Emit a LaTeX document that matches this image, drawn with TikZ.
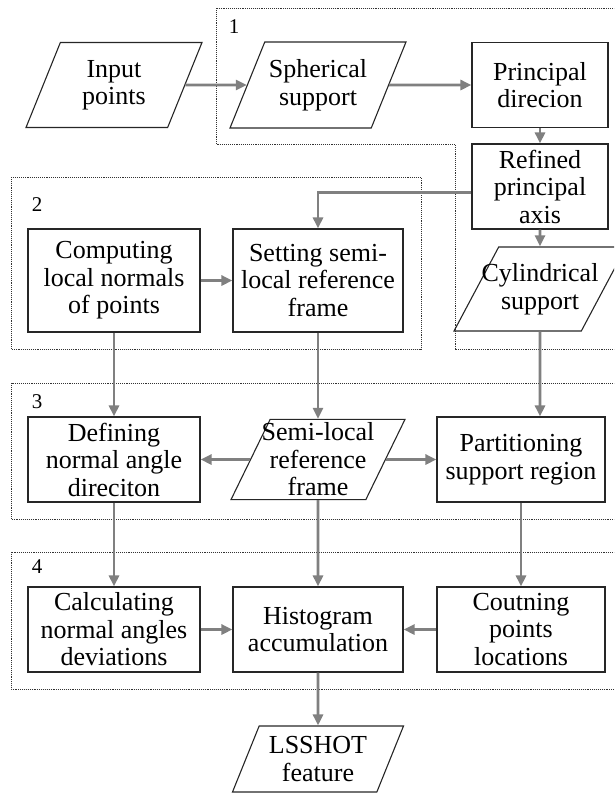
\documentclass[tikz,border=0pt]{standalone}
\usepackage{fontspec}
\setmainfont{Liberation Serif}
\usetikzlibrary{positioning,arrows.meta,calc,shapes.geometric}
\tikzset{
    x=1pt,
    y=-1pt,
    block/.style = {
        draw=black!85,
        shape=rectangle,
        align=center,
        inner sep=0pt,
        minimum width=170pt,
        minimum height=85pt,
        line width=1.1pt,
        font=\fontsize{26}{27.5}\selectfont
    },
    data/.style = {
        draw=black!85,
        shape=trapezium,
        trapezium left angle=68,
        trapezium right angle=112,
        trapezium stretches body,
        align=center,
        inner xsep=0pt,
        inner ysep=17.5pt,
        minimum width=176pt,
        line width=1.1pt,
        font=\fontsize{26}{27.5}\selectfont
    },
    group/.style = {
        draw=black!80,
        densely dotted,
        line width=0.9pt
    },
    tag/.style = {
        inner sep=0pt,
        font=\fontsize{21}{21}\selectfont
    },
    flow/.style = {
        draw=black!50,
        line width=2.6pt,
        ->
    },
    >={Triangle[length=11pt,width=10pt]},
}
\begin{document}
\begin{tikzpicture}
                \useasboundingbox (0,0) rectangle (614,796);
                \clip (0,0) rectangle (614,796);

                % dotted groups
                \path[group] (216,144) -- (216,8) -- (630,8) -- (630,349) -- (455,349) -- (455,144) -- cycle;
                \path[group] (11,177) rectangle (421,349);
                \path[group] (11,383) rectangle (630,519);
                \path[group] (11,552) rectangle (630,689);
                \node[tag] (g1) at (234,27) {1};
                \node[tag] (g2) at (37,205) {2};
                \node[tag] (g3) at (37,402) {3};
                \node[tag] (g4) at (37,567) {4};

                \node[data] (input) at (114,85) {Input\\points};
                \node[data] (spher) at (318,85) {Spherical\\support};
                \node[block, minimum width=136pt] (princ) at (540,85) {Principal\\direcion};
                \node[block, minimum width=136pt] (refined) at (540,186.5) {Refined\\principal\\axis};
                \node[data, minimum width=172pt, inner xsep=-19pt, inner ysep=16.5pt, trapezium left angle=62, trapezium right angle=118] (cyl) at (540,289) {Cylindrical\\support};

                \node[block, minimum width=172pt, minimum height=103pt] (comp) at (114,280.5) {Computing\\local normals\\of points};
                \node[block, minimum height=103pt] (setting) at (318,280.5) {Setting semi-\\local reference\\frame};

                \node[block, minimum width=172pt] (define) at (114,459.5) {Defining\\normal angle\\direciton};
                \node[data, minimum width=174pt, inner xsep=-8.5pt, inner ysep=3.5pt, trapezium left angle=64, trapezium right angle=116] (semi) at (318,459.5) {Semi-local\\reference\\frame};
                \node[block, minimum width=168pt] (part) at (521,459.5) {Partitioning\\support region};

                \node[block, minimum width=172pt] (calc) at (114,629.5) {Calculating\\normal angles\\deviations};
                \node[block] (hist) at (318,629.5) {Histogram\\accumulation};
                \node[block, minimum width=168pt] (count) at (521,629.5) {Coutning\\points\\locations};

                \node[data, minimum width=171pt, inner ysep=10.5pt] (lsshot) at (318,759) {LSSHOT\\feature};

                \path[flow] (input) -- (spher);
                \path[flow] (spher) -- (princ);
                \path[flow] (princ) -- (refined);
                \path[flow] (refined) -- (cyl);
                \path[flow] (refined.185) -| (setting);
                \path[flow] (comp) -- (setting);
                \path[flow] (comp) -- (define);
                \path[flow] (setting) -- (semi);
                \path[flow] (cyl) -- (cyl |- part.north);
                \path[flow] (semi) -- (define);
                \path[flow] (semi) -- (part);
                \path[flow] (define) -- (calc);
                \path[flow] (semi) -- (hist);
                \path[flow] (part) -- (count);
                \path[flow] (calc) -- (hist);
                \path[flow] (count) -- (hist);
                \path[flow] (hist) -- (lsshot);
            \end{tikzpicture}
\end{document}
